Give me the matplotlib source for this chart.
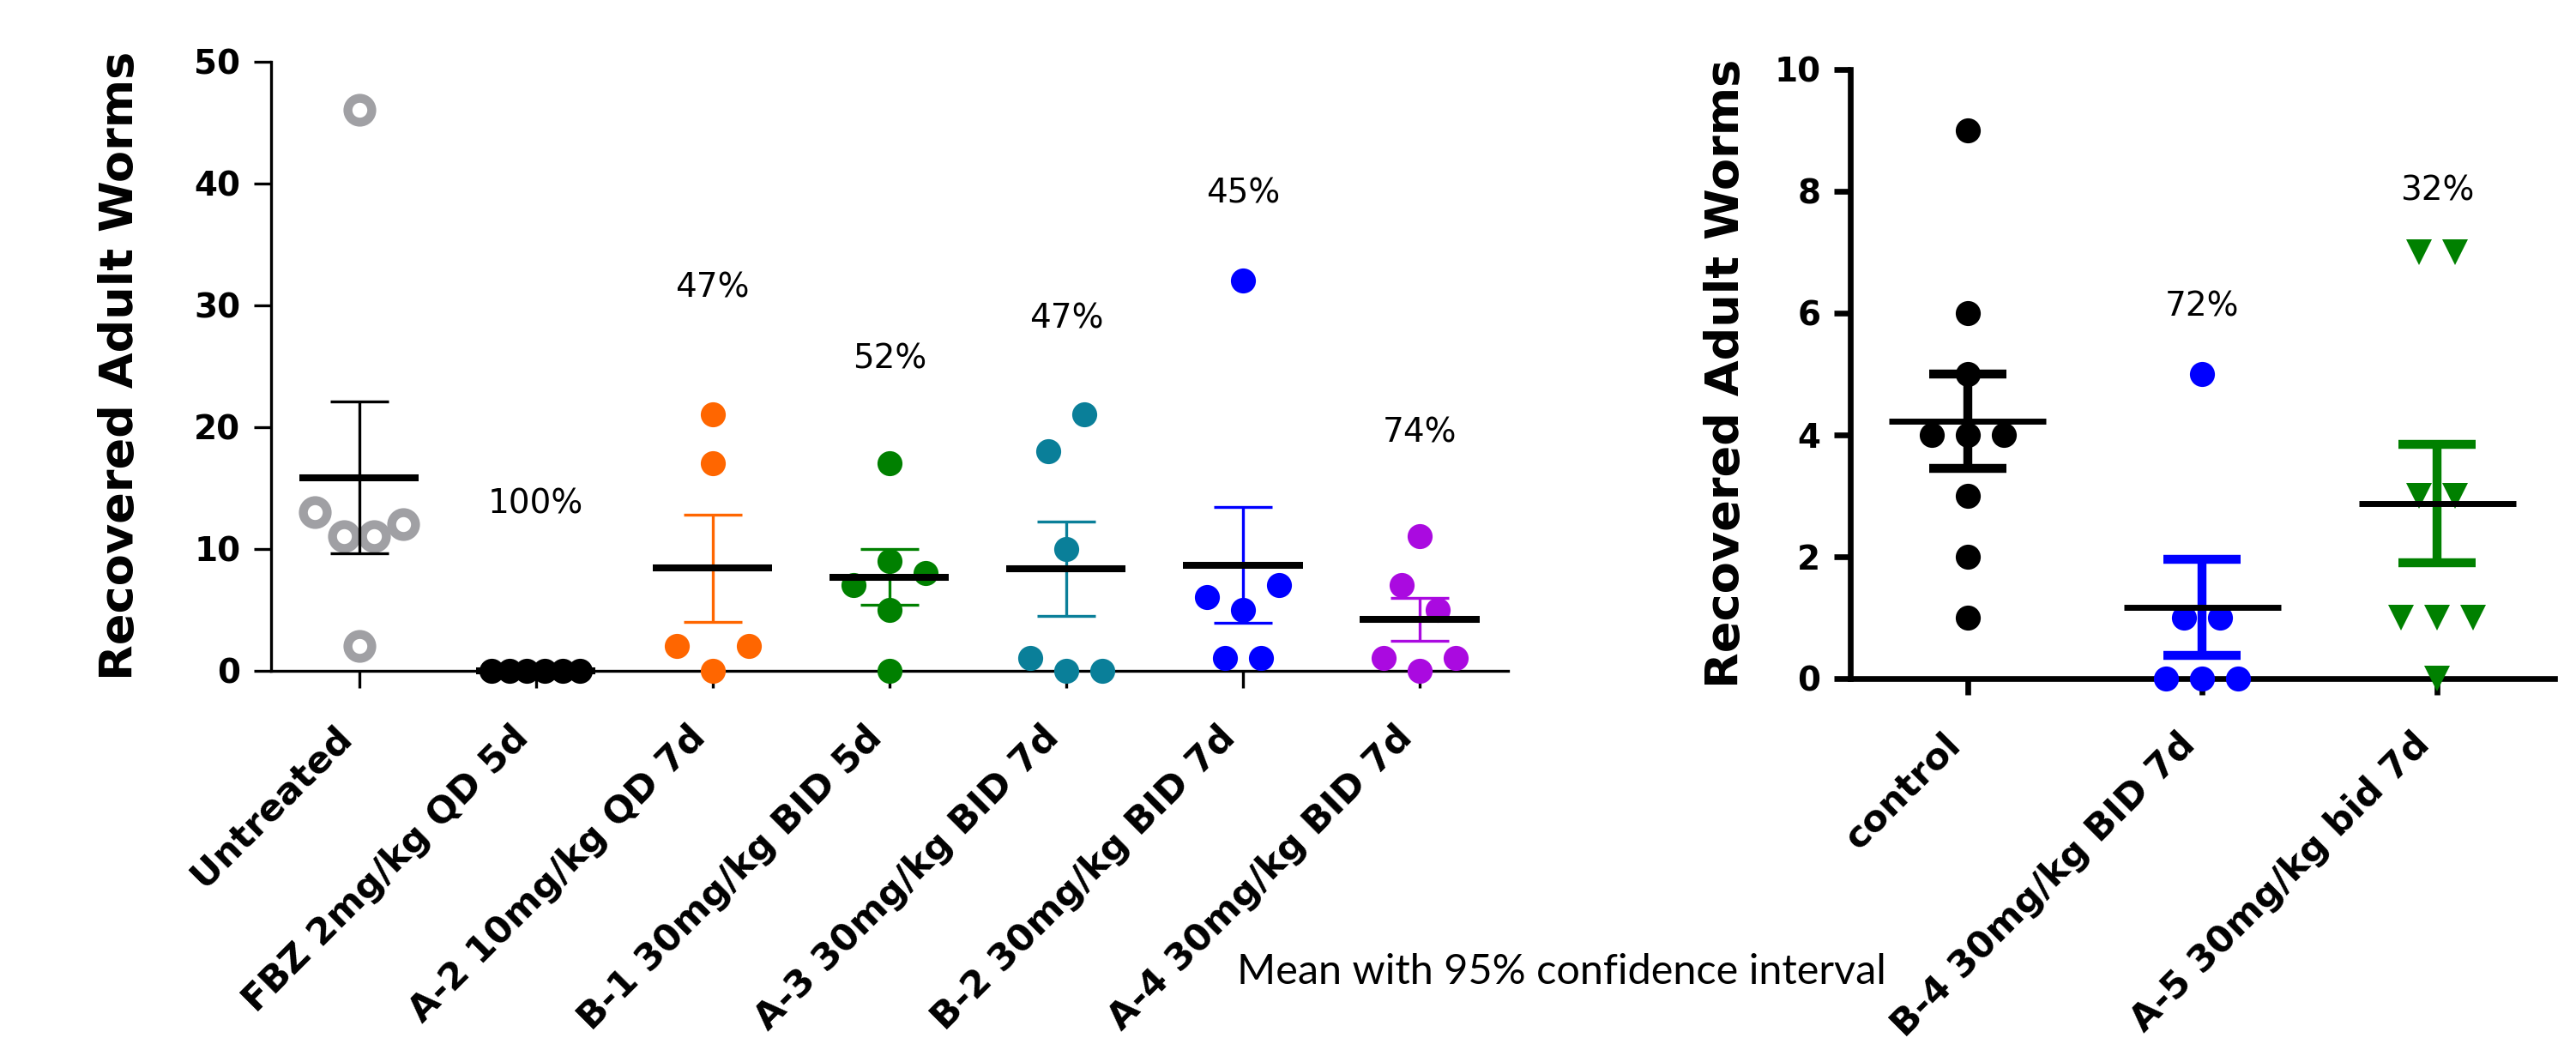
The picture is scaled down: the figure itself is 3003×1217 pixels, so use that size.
import numpy as np
import matplotlib
matplotlib.use("Agg")
import matplotlib.pyplot as plt

# left panel
left_groups = ["Untreated", "FBZ 2mg/kg QD 5d", "A-2 10mg/kg QD 7d", "B-1 30mg/kg BID 5d",
               "A-3 30mg/kg BID 7d", "B-2 30mg/kg BID 7d", "A-4 30mg/kg BID 7d"]
untreated = [46, 13, 11, 11, 12, 2]
fbz = [0, 0, 0, 0, 0, 0]
a2 = [21, 17, 2, 0, 2]
b1 = [17, 7, 9, 8, 5, 0]
a3 = [18, 21, 10, 1, 0, 0]
b2 = [32, 6, 5, 7, 1, 1]
a4 = [11, 7, 5, 1, 0, 1]
left_data = [untreated, fbz, a2, b1, a3, b2, a4]

# right panel
right_groups = ["control", "B-4 30mg/kg BID 7d", "A-5 30mg/kg bid 7d"]
control = [9, 6, 5, 4, 4, 4, 3, 2, 1]
b4 = [5, 1, 1, 0, 0, 0]
a5 = [7, 7, 3, 3, 1, 1, 1, 0]
right_data = [control, b4, a5]

# styles / label heights
left_colors = ["#a0a0a4", "black", "#ff6600", "#008000", "#0a7f99", "#0000ff", "#aa0ae0"]
left_err = ["black", "black", "#ff6600", "#008000", "#0a7f99", "#0000ff", "#aa0ae0"]
right_colors = ["black", "#0000ff", "#008000"]
right_markers = ["o", "o", "v"]
left_pct_y = [None, 13.7, 31.4, 25.6, 28.9, 39.2, 19.5]
right_pct_y = [None, 6.1, 8.0]


def spread(vals, px_x, px_y, step=42, gap=45, maxw=103):
    # GraphPad-like scatter: values closer than `gap` px share a row
    vals = np.asarray(vals, float)
    order = np.argsort(-vals, kind="stable")
    rows = []
    for i in order:
        if rows and vals[rows[-1][0]] - vals[i] <= gap / px_y:
            rows[-1].append(i)
        else:
            rows.append([i])
    dx = np.zeros(len(vals))
    for r in rows:
        r = sorted(r)
        n = len(r)
        if n > 1:
            s = min(step, maxw / (n - 1))
            for k, i in enumerate(r):
                dx[i] = (k - (n - 1) / 2) * s / px_x
    return dx


def draw(ax, data, colors, ecolors, markers, open_first, half, err_lw, mean_lw, cap, axis_lw, tick_len):
    ax.set_xlim(-0.5, len(data) - 0.5)
    px_x = ax.bbox.width / len(data)
    ylo, yhi = ax.get_ylim()
    px_y = ax.bbox.height / (yhi - ylo)
    for i, vals in enumerate(data):
        v = np.asarray(vals, float)
        dx = spread(v, px_x, px_y)
        if open_first and i == 0:
            ax.plot(i + dx, v, ls="none", marker=markers[i], ms=20, mfc="none",
                    mec=colors[i], mew=7.5, clip_on=False, zorder=3)
        else:
            ax.plot(i + dx, v, ls="none", marker=markers[i], ms=21, mfc=colors[i],
                    mec=colors[i], mew=0, clip_on=False, zorder=3)
        m = v.mean()
        se = v.std(ddof=1) / np.sqrt(len(v))
        ax.errorbar(i, m, yerr=se, fmt="none", ecolor=ecolors[i], elinewidth=err_lw,
                    capsize=cap, capthick=err_lw, clip_on=False, zorder=4)
        ax.plot([i - half, i + half], [m, m], color="black", lw=mean_lw,
                solid_capstyle="butt", clip_on=False, zorder=5)
    for s in ["top", "right"]:
        ax.spines[s].set_visible(False)
    for s in ["left", "bottom"]:
        ax.spines[s].set_linewidth(axis_lw)
    ax.tick_params(direction="out", length=tick_len, width=axis_lw, labelsize=28)
    ax.tick_params(axis="x", pad=48)
    ax.tick_params(axis="y", pad=11)
    for t in ax.get_yticklabels():
        t.set_fontweight("bold")


def pct_labels(ax, data, ys):
    base = np.mean(data[0])
    for i, vals in enumerate(data):
        if ys[i] is None:
            continue
        red = round(100 * (1 - np.mean(vals) / base))
        ax.text(i, ys[i], f"{red}%", ha="center", va="center", fontsize=28)


fig = plt.figure(figsize=(30.03, 12.17), dpi=100)

ax1 = fig.add_axes([0.1051, 0.3578, 0.4803, 0.5833])
ax1.set_ylim(0, 50)
ax1.set_yticks([0, 10, 20, 30, 40, 50])
draw(ax1, left_data, left_colors, left_err, ["o"] * 7, True,
     0.338, 2.4, 5.8, 24.8, 2.4, 14.4)
ax1.set_xticks(range(len(left_groups)))
ax1.set_xticklabels(left_groups, rotation=45, ha="right", va="bottom",
                    rotation_mode="anchor", fontweight="bold", fontsize=31)
ax1.set_ylabel("Recovered Adult Worms", fontsize=39, fontweight="bold")
ax1.yaxis.set_label_coords(-0.104, 0.5)
pct_labels(ax1, left_data, left_pct_y)

ax2 = fig.add_axes([0.7182, 0.3503, 0.2735, 0.5834])
ax2.set_ylim(0, 10)
ax2.set_yticks([0, 2, 4, 6, 8, 10])
draw(ax2, right_data, right_colors, right_colors, right_markers, False,
     0.334, 7.5, 5.0, 32.6, 4.8, 13.7)
ax2.set_xticks(range(len(right_groups)))
ax2.set_xticklabels(right_groups, rotation=45, ha="right", va="bottom",
                    rotation_mode="anchor", fontweight="bold", fontsize=31)
ax2.set_ylabel("Recovered Adult Worms", fontsize=39, fontweight="bold")
ax2.yaxis.set_label_coords(-0.145, 0.5)
pct_labels(ax2, right_data, right_pct_y)

fig.text(1442 / 3003, 1 - 1147 / 1217, "Mean with 95% confidence interval",
         ha="left", va="baseline", fontsize=35, family=["Lato", "DejaVu Sans"])

fig.savefig("out.png", dpi=100, facecolor="white")
